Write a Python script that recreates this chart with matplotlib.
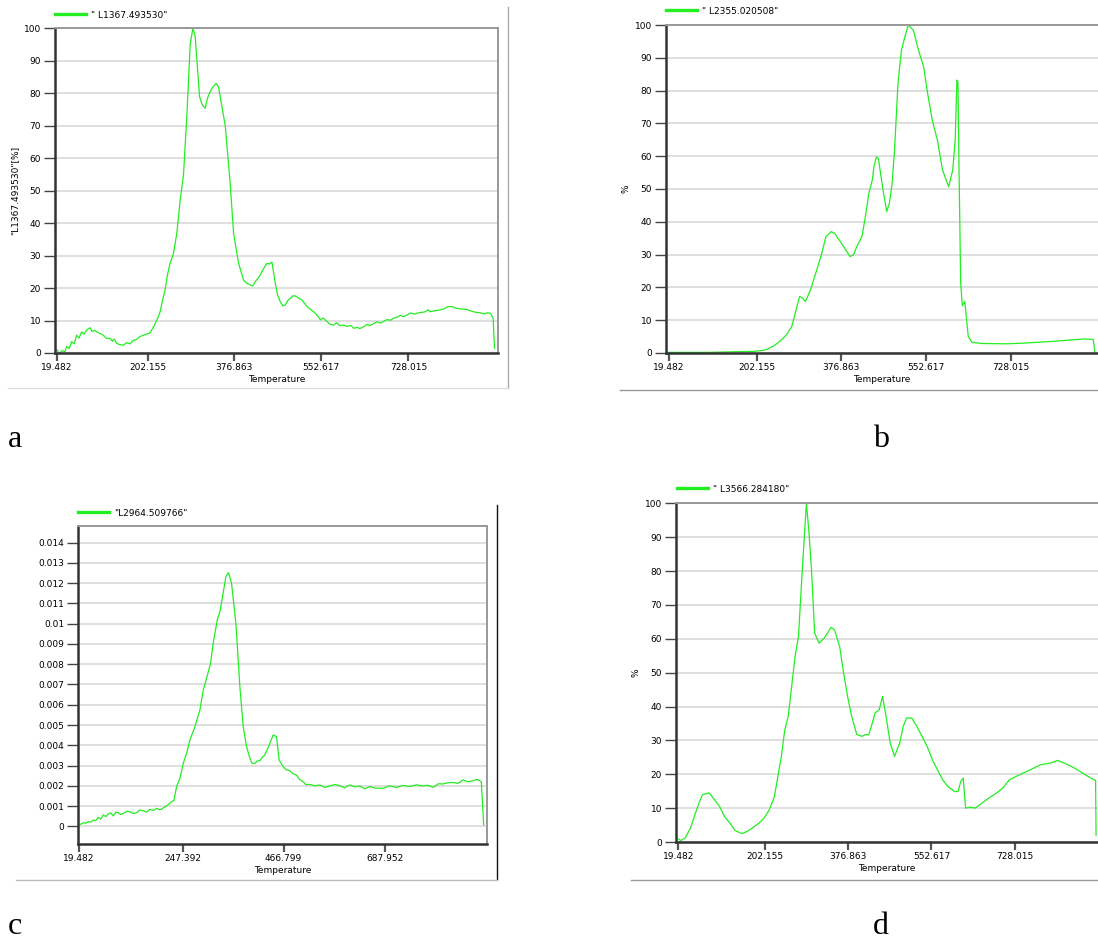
import matplotlib
matplotlib.use("Agg")
import matplotlib.pyplot as plt
from matplotlib.lines import Line2D

W, H = 1098, 940
GREEN = "#22ee22"
FS = 6.5

# panel a: "L1367.493530" signal vs temperature
temp_a = [19.5, 22, 25.5, 30, 35, 39, 44, 49, 54, 59, 64, 69, 74, 80, 86, 90, 95,
          99.6, 106, 113, 118, 126.5, 131, 135, 139.9, 145, 153, 160, 166.9, 172,
          180.3, 186, 193.8, 200, 207.3, 212, 217.3, 222, 227.4, 232, 237.5, 242,
          247.6, 254.4, 261.1, 267.8, 274.6, 281.3, 288, 293.4, 298.1, 306.9, 312,
          318.3, 323, 328.4, 334, 340.5, 345, 348.6, 358.7, 368.8, 375.5, 385.6,
          395.7, 402, 409.2, 414, 419.2, 425, 429.3, 436, 442.8, 448, 452.9, 459.6,
          464, 469.7, 475, 479.8, 485, 489.9, 495, 500, 508, 513.5, 523.6, 530, 537,
          545, 550.5, 556, 564, 570, 577.4, 583, 590, 597.6, 605, 612, 617.8, 625,
          630, 637.9, 645, 650, 658.1, 665, 672, 678.3, 685, 692, 698.5, 705, 712,
          718, 725.4, 732, 740, 752.3, 760, 768, 772, 779.3, 790, 800, 808, 816.3,
          824, 832, 846.6, 855, 865, 873.5, 880, 888, 893.6, 899, 901.7]
sig_a = [1.0, 0.2, 0.0, 0.8, 0.3, 2.0, 1.4, 3.5, 2.8, 5.5, 4.6, 6.5, 5.8, 7.2, 7.8,
         6.6, 7.0, 6.5, 6.0, 5.5, 4.6, 4.5, 3.6, 4.3, 3.0, 2.6, 2.4, 3.2, 2.8, 3.8,
         4.2, 5.0, 5.5, 5.8, 6.2, 7.5, 9.0, 10.5, 12.7, 16.0, 19.4, 24.0, 27.6, 30.7,
         36.9, 47.0, 55.0, 73.0, 95.0, 100.0, 97.5, 79.0, 76.5, 75.4, 78.5, 80.5,
         82.0, 83.0, 82.0, 79.0, 70.0, 52.0, 37.0, 27.6, 22.5, 21.5, 21.0, 20.6,
         22.0, 23.0, 24.0, 26.0, 27.6, 27.4, 28.0, 21.5, 18.0, 15.8, 14.5, 14.8,
         16.2, 16.8, 17.6, 17.6, 16.8, 16.3, 14.3, 13.5, 12.7, 11.5, 10.2, 10.8, 9.7,
         8.8, 8.6, 9.3, 8.4, 8.6, 8.2, 8.5, 7.6, 7.9, 7.5, 8.1, 8.8, 8.4, 9.1, 9.6,
         9.2, 9.7, 10.3, 10.1, 10.7, 11.0, 11.6, 11.2, 11.7, 12.3, 12.0, 12.5, 12.6,
         13.3, 12.7, 13.0, 13.2, 13.6, 14.3, 14.3, 13.8, 13.6, 13.4, 12.9, 12.5,
         12.4, 12.0, 12.4, 12.2, 10.7, 1.5]

# panel b: "L2355.020508"
temp_b = [19.5, 60, 100, 135.8, 160, 192.6, 210, 220.9, 235.1, 249.3, 263.5, 274.1,
          283.3, 290.4, 295.4, 302.5, 313.1, 323.8, 334.4, 345, 355.7, 362.8, 376.9,
          394.7, 401.8, 408.9, 419.5, 426.6, 433.7, 440.8, 444.3, 449.3, 453.5, 462,
          470.6, 476.2, 481.9, 486.9, 494, 501.1, 508.1, 515.2, 525.9, 536.5, 547.2,
          554.3, 564.9, 575.6, 586.2, 598.9, 607.4, 612.4, 616, 618.1, 620.3, 623.8,
          627.3, 632.3, 639.4, 646.5, 667.7, 717.4, 752.8, 809.6, 845, 880.5, 898.2,
          901.7]
sig_b = [0.2, 0.2, 0.2, 0.3, 0.4, 0.5, 0.7, 1.0, 2.0, 3.5, 5.6, 8.1, 13.2, 17.2, 16.9,
         15.7, 19.3, 24.3, 29.4, 35.5, 37.0, 36.5, 33.5, 29.4, 29.9, 32.5, 35.5, 41.6,
         48.7, 52.7, 56.8, 59.8, 59.3, 50.7, 43.1, 45.6, 51.7, 61.9, 82.1, 92.3, 96.3,
         100.0, 98.4, 92.3, 87.2, 80.1, 71.0, 64.9, 55.8, 50.7, 55.8, 64.9, 83.2,
         82.6, 56.8, 21.3, 14.4, 15.7, 5.1, 3.3, 2.9, 2.8, 3.0, 3.5, 3.9, 4.3, 4.1,
         0.0]

# panel c: "L2964.509766" (absolute units)
temp_c = [19.5, 24, 29, 34, 39.9, 45, 50.8, 56, 61.7, 67, 72.6, 78, 83.6, 89, 94.5,
          100, 105.4, 111, 116.3, 124, 130.9, 138, 145.5, 152, 160, 167, 174.6, 182,
          189.1, 195, 200.1, 206, 211, 216, 221.9, 227, 232.8, 240.1, 247.4, 254.7,
          262, 272.9, 283.8, 291.1, 298.4, 307.1, 312.9, 321.7, 327.5, 333.3, 340.6,
          346.4, 353, 362.5, 371.2, 378.5, 385.8, 393.1, 398, 404, 409, 414.9, 420,
          425.8, 435.3, 444, 451.3, 457.1, 465.9, 472, 480.4, 487, 495, 502, 509.6,
          516, 524.1, 535, 546, 557, 567.8, 578, 589.7, 600, 611.5, 622, 633.4, 644,
          655.2, 668, 684.3, 698, 713.5, 728, 742.6, 757, 771.7, 782, 793.6, 805,
          815.4, 826, 837.3, 848, 859.1, 870, 881, 890, 899.1, 904.2]
sig_c = [0.12, 0.10, 0.18, 0.15, 0.23, 0.20, 0.31, 0.28, 0.44, 0.36, 0.56, 0.48,
         0.61, 0.66, 0.51, 0.70, 0.67, 0.58, 0.64, 0.74, 0.72, 0.63, 0.67, 0.80, 0.77,
         0.70, 0.84, 0.78, 0.89, 0.82, 0.84, 0.95, 1.00, 1.10, 1.22, 1.27, 1.96, 2.37,
         3.11, 3.60, 4.26, 4.92, 5.74, 6.73, 7.30, 8.04, 9.03, 10.18, 10.59, 11.33,
         12.32, 12.52, 11.99, 10.02, 6.89, 4.92, 3.93, 3.36, 3.10, 3.11, 3.22, 3.24,
         3.40, 3.52, 4.01, 4.51, 4.43, 3.27, 2.94, 2.80, 2.75, 2.60, 2.53, 2.30, 2.20,
         2.05, 2.07, 2.00, 2.04, 1.92, 1.99, 2.06, 2.01, 1.90, 2.04, 1.95, 1.99, 1.85,
         1.96, 1.88, 1.88, 2.00, 1.92, 2.02, 1.96, 2.05, 1.99, 2.03, 1.92, 2.10, 2.09,
         2.15, 2.16, 2.12, 2.29, 2.20, 2.25, 2.32, 2.20, 0.07]
sig_c = [v * 0.001 for v in sig_c]

# panel d: "L3566.284180"
temp_d = [19.5, 24.5, 33.9, 44.8, 55.6, 62.8, 70.1, 84.5, 95.4, 106.2, 117, 127.9,
          138.8, 153.2, 164.1, 174.9, 189.4, 200.2, 211, 221.9, 229.1, 236.4, 243.6,
          250.8, 258.1, 265.3, 272.5, 279.7, 284.8, 289.2, 294.2, 300, 306.5, 315.9,
          326.7, 341.2, 348.4, 359.3, 366.5, 375.9, 384.6, 395.4, 406.3, 413.5, 420.7,
          428, 433.8, 442.4, 449.7, 456.9, 465.8, 474.9, 485.8, 493, 500.3, 511.1,
          522, 532.8, 543.7, 554.5, 565.3, 576.2, 587, 601.5, 608.7, 614.5, 619.6,
          624.6, 634, 644.9, 659.3, 673.8, 688.2, 702.7, 717.2, 738.9, 760.6, 782.2,
          803.9, 818.4, 832.8, 854.5, 876.2, 892, 898.5, 899.5]
sig_d = [0.9, 0.4, 1.2, 4.1, 8.6, 11.5, 14.0, 14.5, 12.5, 10.5, 7.4, 5.6, 3.4, 2.5,
         3.1, 4.1, 5.6, 7.1, 9.5, 13.5, 19.4, 25.3, 33.1, 37.1, 45.9, 54.8, 60.7,
         78.4, 90.2, 100.0, 92.1, 80.3, 61.7, 58.7, 60.2, 63.4, 62.6, 57.7, 50.8,
         43.0, 37.1, 31.7, 31.2, 31.7, 31.7, 35.1, 38.1, 39.0, 43.0, 37.1, 29.2,
         25.3, 29.2, 34.1, 36.6, 36.6, 34.1, 31.2, 28.2, 24.3, 21.3, 18.4, 16.4,
         14.9, 14.9, 17.9, 18.9, 10.0, 10.3, 10.0, 11.5, 13.0, 14.3, 15.9, 18.4,
         19.9, 21.3, 22.8, 23.3, 24.1, 23.3, 21.8, 19.9, 18.6, 18.2, 2.0]

xticks_std = [19.482, 202.155, 376.863, 552.617, 728.015]
xticks_c = [19.482, 247.392, 466.799, 687.952]
yticks_pct = list(range(0, 101, 10))
yticks_c = [i * 0.001 for i in range(15)]
ylabels_c = ["0"] + ["%g" % round(v, 3) for v in yticks_c[1:]]


def add_axes_px(fig, left, top, right, bottom):
    return fig.add_axes([left / W, 1 - bottom / H, (right - left) / W, (bottom - top) / H])


def fig_line(fig, x0, y0, x1, y1, color, lw=1.0):
    fig.add_artist(Line2D([x0 / W, x1 / W], [1 - y0 / H, 1 - y1 / H],
                          transform=fig.transFigure, color=color, lw=lw))


def draw_panel(fig, ax, temp, sig, name, legend_xy, xlim, xticks, ylim, yticks,
               ylabels, ylabel=None, right_spine=True):
    ax.plot(temp, sig, color=GREEN, lw=0.9)
    ax.set_xlim(*xlim)
    ax.set_ylim(*ylim)
    ax.set_xticks(xticks, ["%.3f" % t for t in xticks])
    ax.set_yticks(yticks, ylabels)
    ax.grid(axis="y", color="#dcdcdc", lw=1.3)
    ax.set_axisbelow(True)
    for side in ("left", "bottom"):
        ax.spines[side].set_color("#333333")
        ax.spines[side].set_linewidth(1.8)
    for side in ("top", "right"):
        ax.spines[side].set_color("#999999")
        ax.spines[side].set_linewidth(1.4)
    ax.spines["right"].set_visible(right_spine)
    ax.tick_params(axis="y", direction="out", length=8, width=1.0, color="#444444",
                   labelsize=FS, pad=2)
    ax.tick_params(axis="x", direction="out", length=5.5, width=1.6, color="#555555",
                   labelsize=FS, pad=2)
    ax.set_xlabel("Temperature", fontsize=FS, labelpad=2)
    if ylabel:
        ax.set_ylabel(ylabel, fontsize=FS, labelpad=3)
    handle = Line2D([], [], color=GREEN, lw=2.4)
    ax.legend([handle], [name], loc="center left",
              bbox_to_anchor=(legend_xy[0] / W, 1 - legend_xy[1] / H),
              bbox_transform=fig.transFigure, frameon=False, fontsize=FS,
              handlelength=3.4, handletextpad=0.6, borderpad=0, borderaxespad=0)


fig = plt.figure(figsize=(W / 100, H / 100), dpi=100)
fig.patch.set_facecolor("white")

ax_a = add_axes_px(fig, 55, 28.3, 498, 353)
draw_panel(fig, ax_a, temp_a, sig_a, '" L1367.493530"', (55, 15), (15.4, 908.8),
           xticks_std, (0, 100), yticks_pct, [str(v) for v in yticks_pct],
           ylabel='"L1367.493530"[%]')

ax_b = add_axes_px(fig, 666, 25, 1098, 353)
draw_panel(fig, ax_b, temp_b, sig_b, '" L2355.020508"', (666, 11), (13.9, 908),
           xticks_std, (0, 100), yticks_pct, [str(v) for v in yticks_pct],
           ylabel="%", right_spine=False)

ax_c = add_axes_px(fig, 78, 526, 487, 844)
draw_panel(fig, ax_c, temp_c, sig_c, '"L2964.509766"', (78, 513), (17.3, 911.5),
           xticks_c, (-0.000872, 0.01482), yticks_c, ylabels_c)

ax_d = add_axes_px(fig, 676, 503.3, 1098, 842)
draw_panel(fig, ax_d, temp_d, sig_d, '" L3566.284180"', (677, 489), (14.4, 903.6),
           xticks_std, (0, 100), yticks_pct, [str(v) for v in yticks_pct],
           ylabel="%", right_spine=False)

# screenshot frame edges around each panel
fig_line(fig, 508, 7, 508, 388, "#aaaaaa", 1.0)
fig_line(fig, 8, 388, 508, 388, "#dddddd", 1.0)
fig_line(fig, 620, 390, 1098, 390, "#999999", 1.0)
fig_line(fig, 497, 505, 497, 879, "#111111", 1.0)
fig_line(fig, 16, 880, 497, 880, "#bbbbbb", 1.0)
fig_line(fig, 631, 880, 1098, 880, "#999999", 1.0)

# panel letters
for letter, x, y in [("a", 8, 447), ("b", 873, 447), ("c", 8, 934), ("d", 873, 934)]:
    fig.text(x / W, 1 - y / H, letter, fontsize=23, family="Liberation Serif",
             va="baseline", ha="left")

fig.savefig("out.png", dpi=100, facecolor="white")
